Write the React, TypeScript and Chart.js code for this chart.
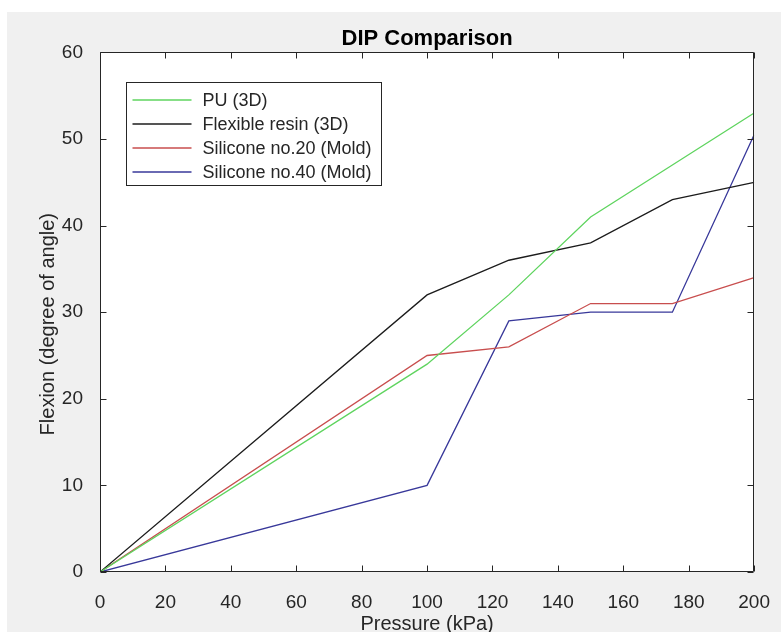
import React, { useEffect, useRef } from "react";
import { Chart, registerables } from "chart.js";

Chart.register(...registerables);

// ---- data ----
const pressure = [0, 100, 125, 150, 175, 200];
const puValues = [0, 24, 32, 41, 47, 53];
const resinValues = [0, 32, 36, 38, 43, 45];
const silicone20Values = [0, 25, 26, 31, 31, 34];
const silicone40Values = [0, 10, 29, 30, 30, 50.5];
const seriesLabels = [
  "PU (3D)",
  "Flexible resin (3D)",
  "Silicone no.20 (Mold)",
  "Silicone no.40 (Mold)",
];
const seriesColors = ["#5fd45f", "#1c1c1c", "#c84e4e", "#38389a"];
const chartTitle = "DIP Comparison";
const xTitle = "Pressure (kPa)";
const yTitle = "Flexion (degree of angle)";

const FONT = "'Liberation Sans', Arial, Helvetica, sans-serif";
const AXIS_COLOR = "#262626";
const TEXT_COLOR = "#262626";

const toPoints = (ys: number[]) => pressure.map((x, i) => ({ x, y: ys[i] }));

const boxPlugin = {
  id: "matlabBox",
  beforeDatasetsDraw(chart: any) {
    const { ctx, chartArea: a } = chart;
    ctx.save();
    ctx.fillStyle = "#ffffff";
    ctx.fillRect(a.left, a.top, a.right - a.left, a.bottom - a.top);
    ctx.restore();
  },
  afterDatasetsDraw(chart: any) {
    const { ctx, chartArea: a, scales } = chart;
    const L = Math.round(a.left) + 0.5;
    const R = Math.round(a.right) - 0.5;
    const T = Math.round(a.top) + 0.5;
    const B = Math.round(a.bottom) - 0.5;
    ctx.save();
    ctx.strokeStyle = AXIS_COLOR;
    ctx.lineWidth = 1;
    ctx.beginPath();
    ctx.rect(L, T, R - L, B - T);
    ctx.stroke();
    const tl = 6;
    ctx.beginPath();
    scales.x.ticks.forEach((t: any) => {
      const px = Math.round(scales.x.getPixelForValue(t.value)) + 0.5;
      ctx.moveTo(px, B);
      ctx.lineTo(px, B - tl);
      ctx.moveTo(px, T);
      ctx.lineTo(px, T + tl);
    });
    scales.y.ticks.forEach((t: any) => {
      const py = Math.round(scales.y.getPixelForValue(t.value)) + 0.5;
      ctx.moveTo(L, py);
      ctx.lineTo(L + tl, py);
      ctx.moveTo(R, py);
      ctx.lineTo(R - tl, py);
    });
    ctx.stroke();

    // y axis title (MATLAB places it slightly below centre here)
    ctx.save();
    ctx.translate(48, (a.top + a.bottom) / 2 + 12);
    ctx.rotate(-Math.PI / 2);
    ctx.font = `20px ${FONT}`;
    ctx.fillStyle = TEXT_COLOR;
    ctx.textAlign = "center";
    ctx.textBaseline = "middle";
    ctx.fillText(yTitle, 0, 0);
    ctx.restore();

    // legend
    const bx = Math.round(a.left) + 26.5;
    const by = Math.round(a.top) + 30.5;
    const bw = 255;
    const bh = 103;
    ctx.fillStyle = "#ffffff";
    ctx.fillRect(bx, by, bw, bh);
    ctx.strokeStyle = AXIS_COLOR;
    ctx.strokeRect(bx, by, bw, bh);
    ctx.font = `18px ${FONT}`;
    ctx.textBaseline = "middle";
    ctx.textAlign = "left";
    chart.data.datasets.forEach((ds: any, i: number) => {
      const y = by + 17.5 + i * 24;
      ctx.strokeStyle = ds.borderColor;
      ctx.lineWidth = 1.3;
      ctx.beginPath();
      ctx.moveTo(bx + 6, y);
      ctx.lineTo(bx + 65, y);
      ctx.stroke();
      ctx.fillStyle = TEXT_COLOR;
      ctx.fillText(ds.label, bx + 76, y + 1);
    });
    ctx.restore();
  },
};

export default function App() {
  const ref = useRef<HTMLCanvasElement | null>(null);

  useEffect(() => {
    if (!ref.current) return;
    const values = [puValues, resinValues, silicone20Values, silicone40Values];
    const chart = new Chart(ref.current, {
      type: "line",
      data: {
        datasets: values.map((v, i) => ({
          label: seriesLabels[i],
          data: toPoints(v),
          borderColor: seriesColors[i],
          backgroundColor: seriesColors[i],
          borderWidth: 1.3,
          pointRadius: 0,
          tension: 0,
          fill: false,
        })),
      },
      options: {
        animation: false,
        responsive: false,
        devicePixelRatio: 1,
        layout: { padding: { left: 0, right: 24, top: 0, bottom: 0 } },
        plugins: {
          legend: { display: false },
          tooltip: { enabled: false },
          title: {
            display: true,
            fullSize: false,
            text: chartTitle,
            color: "#000000",
            font: { family: FONT, size: 22, weight: "bold", lineHeight: 1.2 },
            padding: { top: 26, bottom: 0 },
          },
        },
        scales: {
          x: {
            type: "linear",
            min: 0,
            max: 200,
            grid: { display: false },
            border: { display: false },
            ticks: {
              stepSize: 20,
              color: TEXT_COLOR,
              font: { family: FONT, size: 19 },
              padding: 11,
              maxRotation: 0,
            },
            title: {
              display: true,
              text: xTitle,
              color: TEXT_COLOR,
              font: { family: FONT, size: 20, lineHeight: 1.2 },
              padding: { top: 0, bottom: -4 },
            },
            afterFit: (s: any) => {
              s.height = 60;
            },
          },
          y: {
            type: "linear",
            min: 0,
            max: 60,
            grid: { display: false },
            border: { display: false },
            ticks: {
              stepSize: 10,
              color: TEXT_COLOR,
              font: { family: FONT, size: 19 },
              padding: 9,
            },
            afterFit: (s: any) => {
              s.width = 100;
            },
          },
        },
      },
      plugins: [boxPlugin],
    });
    return () => chart.destroy();
  }, []);

  return (
    <div
      style={{
        position: "fixed",
        left: 0,
        top: 0,
        width: 781,
        height: 632,
        background: "#ffffff",
        overflow: "hidden",
      }}
    >
      <div
        style={{
          position: "absolute",
          left: 7,
          top: 12,
          right: 0,
          bottom: 0,
          background: "#f0f0f0",
        }}
      />
      <canvas
        ref={ref}
        width={781}
        height={632}
        style={{ position: "absolute", left: 0, top: 0, width: 781, height: 632 }}
      />
    </div>
  );
}
